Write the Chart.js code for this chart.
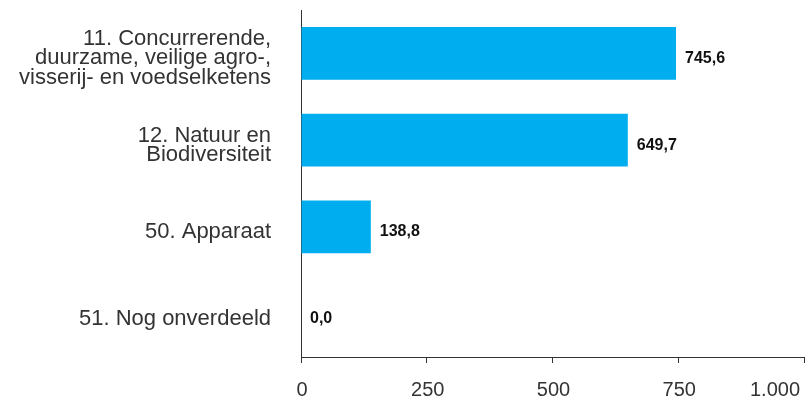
<!DOCTYPE html>
<html>
<head>
<meta charset="utf-8">
<script src="https://cdn.jsdelivr.net/npm/chart.js@4/dist/chart.umd.min.js"></script>
<style>
  html, body { margin: 0; padding: 0; background: #ffffff; }
  #wrap { position: relative; width: 806px; height: 400px; }
</style>
</head>
<body>
<div id="wrap"><canvas id="chart_begroting"></canvas></div>
<script>
var categories = [
    ['11. Concurrerende,', 'duurzame, veilige agro-,', 'visserij- en voedselketens'],
    ['12. Natuur en', 'Biodiversiteit'],
    '50. Apparaat',
    '51. Nog onverdeeld'
];
var values = [745.6, 649.7, 138.8, 0.0];
var tickValues = [0, 250, 500, 750, 1000];
var tickLabels = ['0', '250', '500', '750', '1.000'];

function nl(v) {
    return v.toFixed(1).replace('.', ',');
}

var chart_begroting = new Chart(document.getElementById('chart_begroting'), {
    type: 'bar',
    data: {
        labels: categories,
        datasets: [
            {
                label: 'Uitgaven',
                data: values,
                backgroundColor: '#00aeef',
                borderWidth: 0,
                barPercentage: 0.61,
                categoryPercentage: 1
            }
        ]
    },
    options: {
        indexAxis: 'y',
        animation: false,
        responsive: true,
        maintainAspectRatio: false,
        layout: {
            padding: { top: 10, right: 2, bottom: 37, left: 0 }
        },
        plugins: {
            legend: { display: false },
            tooltip: { enabled: false }
        },
        scales: {
            x: {
                type: 'linear',
                min: 0,
                max: 1000,
                afterBuildTicks: (scale) => {
                    scale.ticks = tickValues.map(v => ({ value: v }));
                },
                afterFit: (scale) => {
                    scale.paddingLeft = 0;
                    scale.paddingRight = 0;
                },
                ticks: { display: false },
                grid: {
                    drawOnChartArea: false,
                    drawTicks: true,
                    tickLength: 6,
                    color: '#333333'
                },
                border: { display: true, color: '#333333', width: 1 }
            },
            y: {
                afterFit: (scale) => {
                    scale.width = 301;
                    scale.paddingTop = 0;
                    scale.paddingBottom = 0;
                },
                ticks: {
                    padding: 30,
                    labelOffset: 5,
                    color: '#333333',
                    font: { family: '"Liberation Sans", Arial, sans-serif', size: 22, lineHeight: 0.88 }
                },
                grid: { display: false, drawTicks: false },
                border: { display: true, color: '#333333', width: 1 }
            }
        }
    },
    plugins: [{
        id: 'labels',
        afterDatasetsDraw: (chart) => {
            const ctx = chart.ctx;
            const meta = chart.getDatasetMeta(0);
            ctx.save();
            ctx.font = 'bold 16px "Liberation Sans", Arial, sans-serif';
            ctx.fillStyle = '#111111';
            ctx.textAlign = 'left';
            ctx.textBaseline = 'middle';
            meta.data.forEach((bar, i) => {
                ctx.fillText(nl(values[i]), bar.x + 9, bar.y + 5);
            });
            // x axis tick labels
            const xs = chart.scales.x;
            ctx.font = '20px "Liberation Sans", Arial, sans-serif';
            ctx.fillStyle = '#333333';
            tickValues.forEach((v, i) => {
                const last = i === tickValues.length - 1;
                ctx.textAlign = last ? 'right' : 'center';
                ctx.fillText(tickLabels[i], xs.getPixelForValue(v) + (last ? -4 : 1), 390);
            });
            ctx.restore();
        }
    }, {
        id: 'whiteBg',
        beforeDraw: (chart) => {
            const ctx = chart.canvas.getContext('2d');
            ctx.save();
            ctx.globalCompositeOperation = 'destination-over';
            ctx.fillStyle = 'white';
            ctx.fillRect(0, 0, chart.canvas.width, chart.canvas.height);
            ctx.restore();
        }
    }]
});
</script>
</body>
</html>
